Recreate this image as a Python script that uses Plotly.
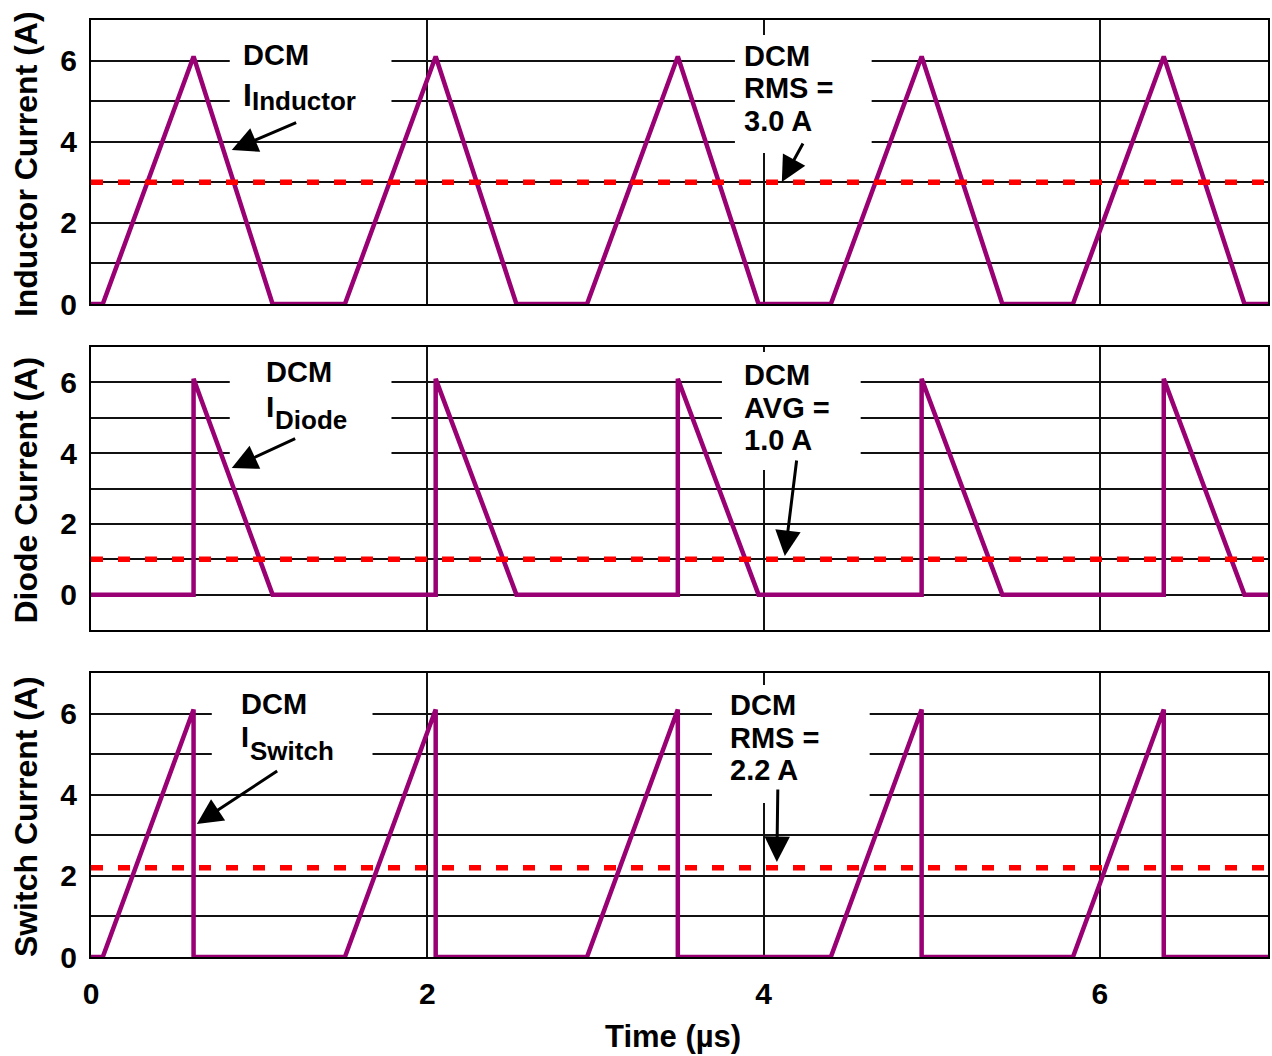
import plotly.graph_objects as go

# ---------------- data ----------------
t_inductor = [0, 0.07, 0.61, 1.08, 1.51, 2.05, 2.53, 2.95, 3.49, 3.97, 4.40, 4.94, 5.42, 5.84, 6.38, 6.86, 7.0]
i_inductor = [0, 0, 6.1, 0, 0, 6.1, 0, 0, 6.1, 0, 0, 6.1, 0, 0, 6.1, 0, 0]

t_diode = [0, 0.61, 0.61, 1.08, 2.05, 2.05, 2.53, 3.49, 3.49, 3.97, 4.94, 4.94, 5.42, 6.38, 6.38, 6.86, 7.0]
i_diode = [0, 0, 6.1, 0, 0, 6.1, 0, 0, 6.1, 0, 0, 6.1, 0, 0, 6.1, 0, 0]

t_switch = [0, 0.07, 0.61, 0.61, 1.51, 2.05, 2.05, 2.95, 3.49, 3.49, 4.40, 4.94, 4.94, 5.84, 6.38, 6.38, 7.0]
i_switch = [0, 0, 6.1, 0, 0, 6.1, 0, 0, 6.1, 0, 0, 6.1, 0, 0, 6.1, 0, 0]

t_span = [0, 7]
inductor_rms = 3.0
diode_avg = 1.0
switch_rms = 2.2

y_titles = ["Inductor Current (A)", "Diode Current (A)", "Switch Current (A)"]
x_title = "Time (µs)"
x_ticks = [0, 2, 4, 6]
y_ticks = [0, 2, 4, 6]

# ---------------- style ----------------
PURPLE = "#990073"
RED = "#ff0000"
FONT = "Liberation Sans, Arial, sans-serif"
GRID = "#111111"

# pixel geometry of the plot areas
L, R = 91, 1270
W, H = 1272, 1056
PANELS_PX = [(20, 304), (347, 630), (673, 957)]
RANGES = [[0, 7], [-1, 7], [0, 7]]
PLOT_TOP, PLOT_BOT = 20, 957
PH = PLOT_BOT - PLOT_TOP


def dom(top, bot):
    return [(PLOT_BOT - bot) / PH, (PLOT_BOT - top) / PH]


def px2x(px):
    return (px - L) / (R - L) * 7


def py2y(k, py):
    top, bot = PANELS_PX[k]
    lo, hi = RANGES[k]
    return lo + (bot - py) / (bot - top) * (hi - lo)


def ppx(px):
    return (px - L) / (R - L)


def ppy(py):
    return (PLOT_BOT - py) / PH


fig = go.Figure()

series = [(t_inductor, i_inductor, inductor_rms),
          (t_diode, i_diode, diode_avg),
          (t_switch, i_switch, switch_rms)]
for k, (t, cur, lvl) in enumerate(series):
    xa = "x" if k == 0 else f"x{k+1}"
    ya = "y" if k == 0 else f"y{k+1}"
    fig.add_trace(go.Scatter(x=t, y=cur, mode="lines",
                             line=dict(color=PURPLE, width=4.5),
                             xaxis=xa, yaxis=ya, showlegend=False, hoverinfo="skip"))
    fig.add_trace(go.Scatter(x=t_span, y=[lvl, lvl], mode="lines",
                             line=dict(color=RED, width=5.5, dash="12px,15px"),
                             xaxis=xa, yaxis=ya, showlegend=False, hoverinfo="skip"))

axis_common = dict(showline=True, mirror=True, linecolor="black", linewidth=2,
                   showgrid=True, gridcolor=GRID, gridwidth=1.5, zeroline=False,
                   ticks="")
layout = dict(width=W, height=H, plot_bgcolor="white", paper_bgcolor="white",
              margin=dict(l=L, r=W - R, t=PLOT_TOP, b=H - PLOT_BOT),
              font=dict(family=FONT, color="black"))
for k in range(3):
    xname = "xaxis" if k == 0 else f"xaxis{k+1}"
    yname = "yaxis" if k == 0 else f"yaxis{k+1}"
    anchor_y = "y" if k == 0 else f"y{k+1}"
    anchor_x = "x" if k == 0 else f"x{k+1}"
    layout[xname] = dict(axis_common, domain=[0, 1], range=[0, 7], anchor=anchor_y,
                         tickmode="array", tickvals=x_ticks,
                         showticklabels=(k == 2), ticklabelstandoff=9,
                         tickfont=dict(size=30, family=FONT, weight="bold"))
    layout[yname] = dict(axis_common, domain=dom(*PANELS_PX[k]), range=RANGES[k],
                         anchor=anchor_x, tickmode="array", tickvals=y_ticks,
                         ticklabelstandoff=6,
                         tickfont=dict(size=30, family=FONT, weight="bold"),
                         minor=dict(tick0=0, dtick=1, showgrid=True,
                                    gridcolor=GRID, gridwidth=1.5, ticks=""))
fig.update_layout(**layout)

# ---------------- white label boxes ----------------
boxes = [  # panel, x0, x1, y0(top px), y1(bottom px)
    (0, 230, 392, 30, 126),
    (0, 736, 873, 35, 153),
    (1, 230, 392, 355, 460),
    (1, 723, 862, 352, 470),
    (2, 212, 373, 680, 775),
    (2, 713, 871, 685, 803),
]
for k, x0, x1, y0, y1 in boxes:
    xr = "x" if k == 0 else f"x{k+1}"
    yr = "y" if k == 0 else f"y{k+1}"
    fig.add_shape(type="rect", xref=xr, yref=yr,
                  x0=px2x(x0), x1=px2x(x1), y0=py2y(k, y1), y1=py2y(k, y0),
                  fillcolor="white", line=dict(width=0), layer="above")

# ---------------- label texts (one line each) ----------------
texts = [  # panel, text, box-left px, cap-center px, size
    (0, "DCM", 242, 55, 29),
    (0, "I", 242, 95, 32),
    (0, "Inductor", 251.5, 101, 26),
    (0, "DCM", 744, 55.5, 29),
    (0, "RMS =", 744, 88, 29),
    (0, "3.0 A", 744, 120.5, 29),
    (1, "DCM", 265, 372, 29),
    (1, "I", 265, 406, 30),
    (1, "Diode", 274, 420, 26),
    (1, "DCM", 744, 375, 29),
    (1, "AVG =", 744, 407.5, 29),
    (1, "1.0 A", 744, 440, 29),
    (2, "DCM", 240, 704, 29),
    (2, "I", 240, 737, 29),
    (2, "Switch", 249, 751, 26),
    (2, "DCM", 730, 705, 29),
    (2, "RMS =", 730, 737.5, 29),
    (2, "2.2 A", 730, 770, 29),
]
for k, txt, lx, cy, size in texts:
    xr = "x" if k == 0 else f"x{k+1}"
    yr = "y" if k == 0 else f"y{k+1}"
    fig.add_annotation(xref=xr, yref=yr, x=px2x(lx), y=py2y(k, cy),
                       text=txt, showarrow=False, xanchor="left", yanchor="middle",
                       borderpad=0,
                       font=dict(size=size, family=FONT, weight="bold", color="black"))

arrows = [  # panel, tail px, head px
    (0, (298, 122), (232, 150)),
    (0, (805, 142), (783, 182)),
    (1, (297, 438), (232, 468)),
    (1, (798, 459), (786, 556)),
    (2, (279, 770), (197, 824)),
    (2, (779, 788), (778, 862)),
]
for k, (tx, ty), (hx, hy) in arrows:
    xr = "x" if k == 0 else f"x{k+1}"
    yr = "y" if k == 0 else f"y{k+1}"
    fig.add_annotation(xref=xr, yref=yr, axref=xr, ayref=yr,
                       x=px2x(hx), y=py2y(k, hy), ax=px2x(tx), ay=py2y(k, ty),
                       text="", showarrow=True, arrowhead=2, arrowsize=1.7,
                       arrowwidth=3, arrowcolor="black", standoff=0, startstandoff=0)

# ---------------- axis titles ----------------
for k, title in enumerate(y_titles):
    top, bot = PANELS_PX[k]
    fig.add_annotation(xref="paper", yref="paper", x=ppx(26), y=ppy((top + bot) / 2 + 2),
                       text=title, textangle=-90, showarrow=False,
                       xanchor="center", yanchor="middle",
                       font=dict(size=32, family=FONT, weight="bold", color="black"))
fig.add_annotation(xref="paper", yref="paper", x=ppx(674), y=ppy(1036.5),
                   text=x_title, showarrow=False, xanchor="center", yanchor="middle",
                   font=dict(size=31, family=FONT, weight="bold", color="black"))

fig.write_html("out.html")
